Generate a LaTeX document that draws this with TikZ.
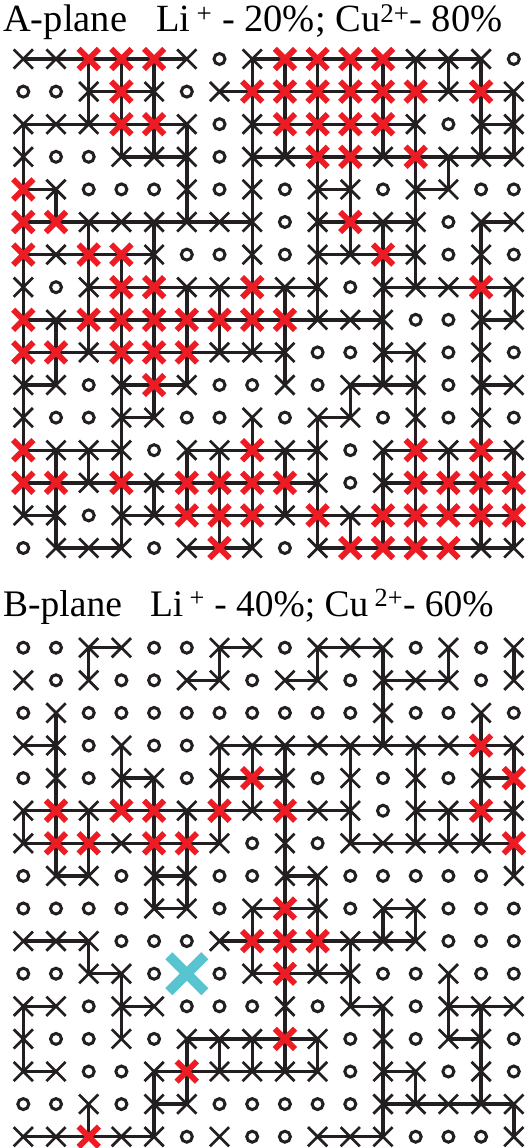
\documentclass[tikz,border=0pt]{standalone}
\usepackage{fontspec}
\setmainfont{Liberation Serif}
\usetikzlibrary{shapes.misc,backgrounds}
\definecolor{inkblack}{RGB}{35,31,32}
\definecolor{cured}{RGB}{237,28,36}
\definecolor{vacancy}{RGB}{88,196,208}
\tikzset{
  bond/.style={line width=3.4pt, draw=inkblack},
  sitex/.style={cross out, draw=inkblack, line width=2.7pt, minimum size=16.5pt, inner sep=0pt},
  siter/.style={cross out, draw=cured, line width=5.8pt, minimum size=14.5pt, inner sep=0pt},
  siteo/.style={circle, draw=inkblack, line width=3pt, minimum size=11pt, inner sep=0pt},
  sitec/.style={cross out, draw=vacancy, line width=10pt, minimum size=26pt, inner sep=0pt},
  title/.style={anchor=base west, inner sep=0pt, font=\fontsize{38.5}{42}\selectfont}
}
\begin{document}
\begin{tikzpicture}[x=1pt,y=-1pt]
\useasboundingbox (0,0) rectangle (531,1148);
\node[title] (ta) at (3,32) {A-plane\hspace{0.75em}Li\,\textsuperscript{+} - 20\%; Cu\textsuperscript{2+}- 80\%};
\node[title, font=\fontsize{37.5}{41}\selectfont] (tb) at (3,616) {B-plane\hspace{0.75em}Li\,\textsuperscript{+} - 40\%; Cu\,\textsuperscript{2+}- 60\%};
% A-plane sites
\foreach \line [count=\row from 0] in {
  {x,x,r,r,r,x,o,x,r,r,r,r,x,x,x,o},
  {o,o,x,r,x,o,x,r,r,r,r,r,r,x,r,x},
  {x,x,x,r,r,x,o,x,r,r,r,r,x,o,x,x},
  {x,o,o,x,x,x,o,x,x,r,r,x,r,x,x,x},
  {r,x,o,o,o,x,o,x,o,x,x,o,x,x,o,o},
  {r,r,x,x,x,x,x,x,o,x,r,x,x,o,x,x},
  {r,x,r,r,x,o,o,x,o,x,x,r,x,o,x,o},
  {x,o,x,r,r,x,x,r,x,x,o,x,x,x,r,x},
  {r,x,r,r,r,r,r,r,r,x,x,x,o,o,x,x},
  {r,r,x,r,r,r,x,x,x,o,o,x,x,o,x,o},
  {x,x,o,x,r,x,o,o,x,o,x,x,x,o,x,x},
  {x,o,o,x,x,o,o,x,o,x,x,o,x,o,x,o},
  {r,x,x,x,o,x,x,r,x,x,o,x,r,x,r,x},
  {r,r,x,r,x,r,r,r,r,x,o,x,r,r,r,r},
  {x,x,o,x,x,r,r,r,x,r,x,r,r,r,r,r},
  {o,x,x,x,o,x,r,x,o,x,r,r,r,r,x,x}}{
  \foreach \kind [count=\col from 0] in \line
    \node[site\kind] (a-\row-\col) at (23.3+32.7*\col, 59+32.6*\row) {};
}
% B-plane sites
\foreach \line [count=\row from 0] in {
  {o,o,x,x,o,o,x,x,o,x,x,x,o,x,o,x},
  {x,o,x,o,o,x,x,o,x,x,o,x,x,x,o,x},
  {o,x,o,o,o,o,o,o,o,o,o,x,o,o,x,o},
  {x,x,o,x,o,o,x,x,x,x,x,x,x,x,r,x},
  {o,x,o,x,x,o,x,r,x,o,x,o,x,o,x,r},
  {x,r,x,r,r,x,r,x,r,x,x,o,x,x,r,x},
  {x,r,r,x,r,r,x,o,x,o,x,x,x,x,x,r},
  {o,x,x,o,x,x,o,o,x,x,o,o,o,o,o,x},
  {o,o,o,o,x,x,o,x,r,x,o,x,x,o,o,o},
  {x,x,x,o,o,o,x,r,r,r,x,x,x,o,o,o},
  {o,o,x,x,o,c,o,x,r,x,x,o,o,x,o,o},
  {x,x,o,x,x,o,o,o,x,o,x,x,o,x,x,x},
  {x,o,o,x,o,x,x,x,r,x,o,x,o,x,x,o},
  {x,x,o,o,x,r,x,x,x,x,o,x,x,o,x,o},
  {o,o,x,o,x,x,o,o,o,o,o,x,x,x,x,x},
  {x,x,r,x,x,o,x,o,o,x,x,x,o,o,o,x}}{
  \foreach \kind [count=\col from 0] in \line
    \node[site\kind] (b-\row-\col) at (23.3+32.7*\col, 647.7+32.6*\row) {};
}
\begin{pgfonlayer}{background}
% A-plane bonds
\foreach \row/\ca/\cb in {0/0/5,0/7/14,1/2/4,1/6/15,2/0/5,2/7/12,2/14/15,
  3/3/5,3/7/15,4/0/1,4/9/10,4/12/13,5/0/7,5/9/12,5/14/15,6/0/4,6/9/12,
  7/2/9,7/11/15,8/0/11,8/14/15,9/0/8,9/11/12,10/0/1,10/3/5,10/10/12,10/14/15,
  11/3/4,11/9/10,12/0/3,12/5/9,12/11/15,13/0/9,13/11/15,14/0/1,14/3/15,
  15/1/3,15/5/7,15/9/15}
  \draw[bond] (a-\row-\ca.center) -- (a-\row-\cb.center);
\foreach \col/\ra/\rb in {0/2/14,1/4/5,1/8/10,1/12/15,2/0/2,2/5/9,2/12/13,
  3/0/3,3/6/15,4/0/3,4/5/11,4/13/14,5/2/5,5/7/10,5/12/14,6/7/9,6/12/15,
  7/0/9,7/11/15,8/0/3,8/7/10,8/12/14,9/0/8,9/11/15,10/0/6,10/10/11,10/14/15,
  11/0/3,11/5/10,11/12/15,12/0/7,12/9/15,13/0/1,13/3/4,13/12/14,
  14/0/3,14/5/15,15/1/3,15/7/8,15/12/15}
  \draw[bond] (a-\ra-\col.center) -- (a-\rb-\col.center);
% B-plane bonds
\foreach \row/\ca/\cb in {0/2/3,0/6/7,0/9/11,1/5/6,1/8/9,1/11/13,3/0/1,3/6/15,
  4/3/4,4/6/8,4/14/15,5/0/10,5/12/15,6/0/6,6/10/15,7/1/2,7/4/5,7/8/9,
  8/4/5,8/7/9,8/11/12,9/0/2,9/6/12,10/2/3,10/7/10,11/0/1,11/3/4,11/10/11,
  11/13/15,12/5/9,12/13/14,13/0/1,13/4/9,13/11/12,14/4/5,14/11/15,15/0/4,15/9/11}
  \draw[bond] (b-\row-\ca.center) -- (b-\row-\cb.center);
\foreach \col/\ra/\rb in {0/5/6,0/11/13,1/2/7,2/0/1,2/5/7,2/9/10,2/14/15,
  3/3/5,3/10/12,4/4/8,4/13/15,5/5/8,5/12/14,6/0/1,6/3/6,6/12/13,
  7/3/5,7/8/10,7/12/13,8/3/13,9/0/1,9/7/10,9/12/13,10/3/6,10/9/11,
  11/0/3,11/8/9,11/11/15,12/3/6,12/8/9,12/13/14,13/0/1,13/5/6,13/10/12,
  14/2/6,14/11/14,15/0/1,15/3/7,15/14/15}
  \draw[bond] (b-\ra-\col.center) -- (b-\rb-\col.center);
\end{pgfonlayer}
\end{tikzpicture}
\end{document}
